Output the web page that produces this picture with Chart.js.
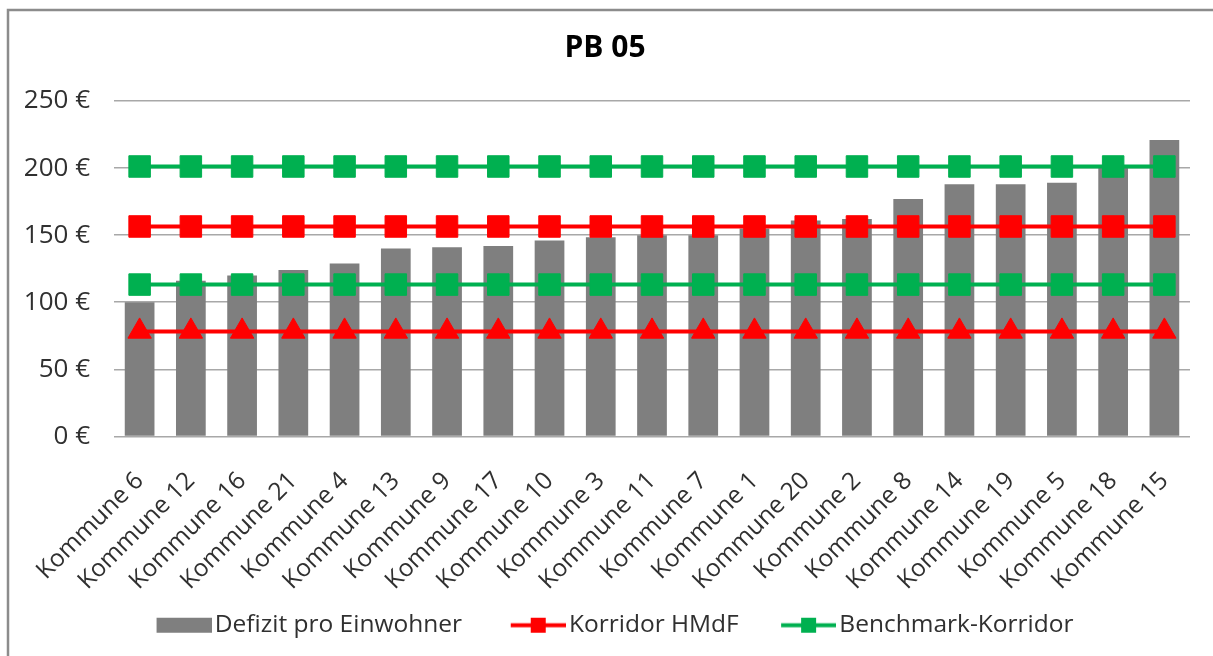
<!DOCTYPE html>
<html>
<head>
<meta charset="utf-8">
<title>PB 05</title>
<script src="https://cdn.jsdelivr.net/npm/chart.js@4/dist/chart.umd.min.js"></script>
<style>
  html, body { margin: 0; padding: 0; background: #ffffff; }
  #wrap { width: 1213px; height: 656px; position: relative; }
</style>
</head>
<body>
<div id="wrap"><canvas id="chart"></canvas></div>
<script>
// Kommunen, aufsteigend nach Defizit sortiert
const kommunen = [
  'Kommune 6', 'Kommune 12', 'Kommune 16', 'Kommune 21', 'Kommune 4', 'Kommune 13',
  'Kommune 9', 'Kommune 17', 'Kommune 10', 'Kommune 3', 'Kommune 11', 'Kommune 7',
  'Kommune 1', 'Kommune 20', 'Kommune 2', 'Kommune 8', 'Kommune 14', 'Kommune 19',
  'Kommune 5', 'Kommune 18', 'Kommune 15'
];

// Defizit pro Einwohner in Euro
const defizitProEinwohner = [
  100, 116, 120, 124, 129, 140, 141, 142, 146, 148.5, 150, 150,
  155, 161, 162, 177, 188, 188, 189, 200, 221
];

// Korridor HMdF: Ober- und Untergrenze
const korridorHmdfOben = [
  156.5, 156.5, 156.5, 156.5, 156.5, 156.5, 156.5, 156.5, 156.5, 156.5, 156.5,
  156.5, 156.5, 156.5, 156.5, 156.5, 156.5, 156.5, 156.5, 156.5, 156.5
];
const korridorHmdfUnten = [
  78.3, 78.3, 78.3, 78.3, 78.3, 78.3, 78.3, 78.3, 78.3, 78.3, 78.3,
  78.3, 78.3, 78.3, 78.3, 78.3, 78.3, 78.3, 78.3, 78.3, 78.3
];

// Benchmark-Korridor: Ober- und Untergrenze
const benchmarkOben = [
  201.2, 201.2, 201.2, 201.2, 201.2, 201.2, 201.2, 201.2, 201.2, 201.2, 201.2,
  201.2, 201.2, 201.2, 201.2, 201.2, 201.2, 201.2, 201.2, 201.2, 201.2
];
const benchmarkUnten = [
  113.2, 113.2, 113.2, 113.2, 113.2, 113.2, 113.2, 113.2, 113.2, 113.2, 113.2,
  113.2, 113.2, 113.2, 113.2, 113.2, 113.2, 113.2, 113.2, 113.2, 113.2
];

// Werte der y-Achsenbeschriftung
const yTicks = [0, 50, 100, 150, 200, 250];

const FONT = '"Open Sans", "Noto Sans", sans-serif';
const GRAU = '#7f7f7f';
const ROT = '#ff0000';
const GRUEN = '#00b050';
const TEXT = '#303030';

// Legendensymbole: transparenter Vorlauf links, sichtbares Symbol rechts
const LEGEND_BOX = 66;
function legendSwatch(kind, color) {
  const w = LEGEND_BOX + 18;
  const h = 24;
  const c = document.createElement('canvas');
  c.width = w;
  c.height = h;
  const g = c.getContext('2d');
  const x0 = w - 55;
  if (kind === 'bar') {
    g.fillStyle = color;
    g.fillRect(x0, 5, 55, 15);
  } else {
    g.strokeStyle = color;
    g.lineWidth = 4;
    g.beginPath();
    g.moveTo(x0, 12.5);
    g.lineTo(w, 12.5);
    g.stroke();
    g.fillStyle = color;
    g.fillRect(x0 + 20, 5, 15, 15);
  }
  return c;
}

// Weißer Hintergrund und Rahmen
const frame = {
  id: 'frame',
  beforeDraw(chart) {
    const ctx = chart.ctx;
    ctx.save();
    ctx.fillStyle = '#ffffff';
    ctx.fillRect(0, 0, chart.width, chart.height);
    ctx.strokeStyle = '#8c8c8c';
    ctx.lineWidth = 2.5;
    ctx.strokeRect(8, 10, chart.width + 40, chart.height + 40);
    ctx.restore();
  }
};

const lineStyle = (label, data, color, marker, radius) => ({
  type: 'line',
  label,
  data,
  borderColor: color,
  backgroundColor: color,
  borderWidth: 4,
  pointStyle: marker,
  pointRadius: radius,
  pointHoverRadius: radius,
  pointBackgroundColor: color,
  pointBorderColor: color,
  pointBorderWidth: 1,
  fill: false,
  tension: 0,
  order: 1
});

new Chart(document.getElementById('chart'), {
  type: 'bar',
  data: {
    labels: kommunen,
    datasets: [
      {
        type: 'bar',
        label: 'Defizit pro Einwohner',
        data: defizitProEinwohner,
        backgroundColor: GRAU,
        borderWidth: 0,
        barPercentage: 0.58,
        categoryPercentage: 1.0,
        order: 10
      },
      lineStyle('Korridor HMdF', korridorHmdfOben, ROT, 'rect', 15.2),
      lineStyle('Korridor HMdF (Untergrenze)', korridorHmdfUnten, ROT, 'triangle', 13.5),
      lineStyle('Benchmark-Korridor', benchmarkOben, GRUEN, 'rect', 15.2),
      lineStyle('Benchmark-Korridor (Untergrenze)', benchmarkUnten, GRUEN, 'rect', 15.2)
    ]
  },
  options: {
    responsive: true,
    maintainAspectRatio: false,
    animation: false,
    layout: { padding: { left: 20, right: 23, top: 0, bottom: 9 } },
    plugins: {
      tooltip: { enabled: false },
      title: {
        display: true,
        text: 'PB 05',
        color: '#000000',
        font: { family: FONT, size: 30, weight: 'bold' },
        padding: { top: 30, bottom: 35 }
      },
      legend: {
        position: 'bottom',
        align: 'center',
        labels: {
          usePointStyle: true,
          pointStyleWidth: LEGEND_BOX,
          padding: 16,
          color: TEXT,
          font: { family: FONT, size: 24.5 },
          generateLabels() {
            return [
              { text: 'Defizit pro Einwohner  ', pointStyle: legendSwatch('bar', GRAU), datasetIndex: 0, fontColor: TEXT, lineWidth: 0, hidden: false },
              { text: 'Korridor HMdF ', pointStyle: legendSwatch('line', ROT), datasetIndex: 1, fontColor: TEXT, lineWidth: 0, hidden: false },
              { text: 'Benchmark-Korridor', pointStyle: legendSwatch('line', GRUEN), datasetIndex: 3, fontColor: TEXT, lineWidth: 0, hidden: false }
            ];
          }
        }
      }
    },
    scales: {
      x: {
        grid: { display: false },
        border: { display: false },
        ticks: {
          minRotation: 45,
          maxRotation: 45,
          autoSkip: false,
          padding: 22,
          color: TEXT,
          font: { family: FONT, size: 24.5 }
        },
        afterFit(scale) { scale.height = 160; }
      },
      y: {
        min: 0,
        max: 250,
        border: { display: false },
        grid: { color: '#a8a8a8', lineWidth: 1.6, drawTicks: false },
        afterBuildTicks(scale) { scale.ticks = yTicks.map(v => ({ value: v })); },
        ticks: {
          padding: 24,
          color: TEXT,
          font: { family: FONT, size: 26 },
          callback: v => v + ' €'
        },
        afterFit(scale) { scale.width = 94; }
      }
    }
  },
  plugins: [frame]
});
</script>
</body>
</html>
